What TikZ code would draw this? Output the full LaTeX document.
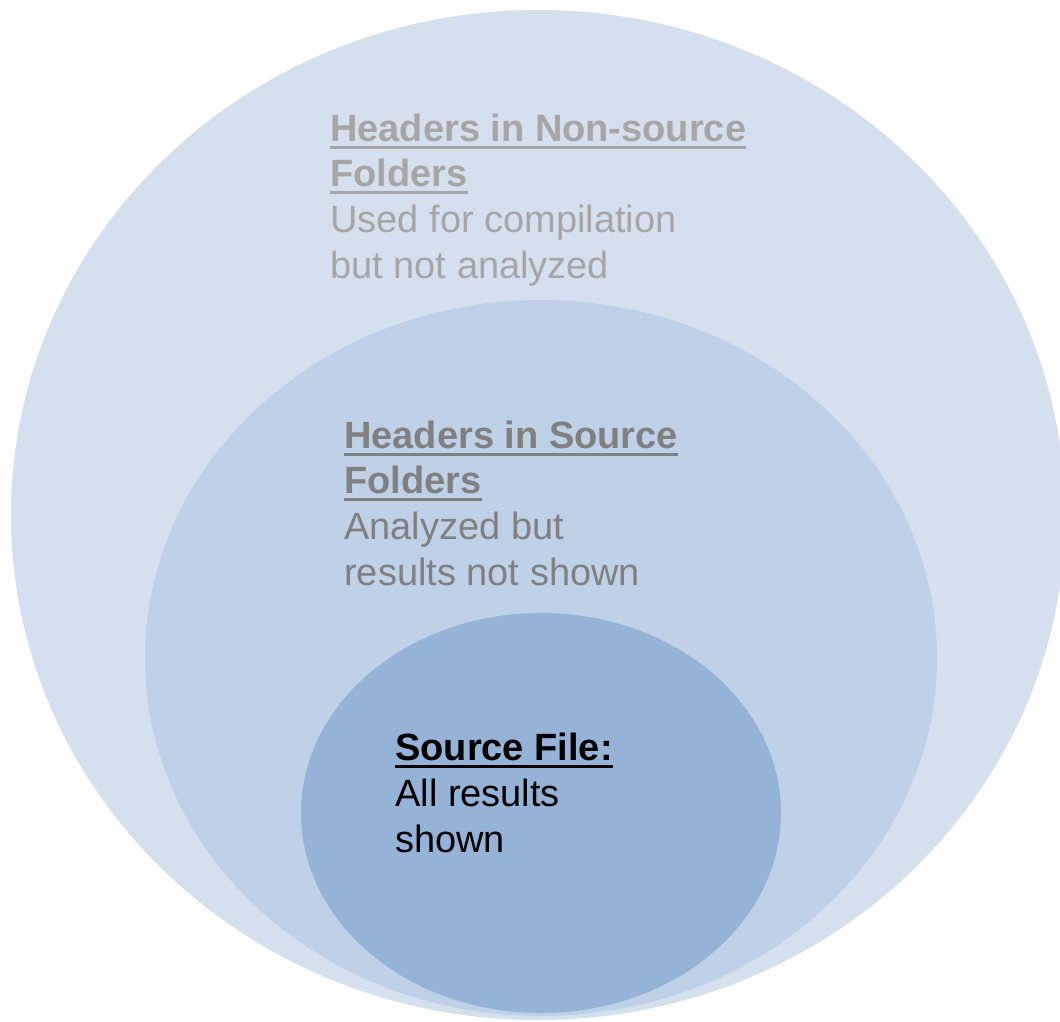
\documentclass[tikz,border=0pt]{standalone}
\usepackage{fontspec}
\setmainfont{Liberation Sans}
\usepackage{tikz}
\usetikzlibrary{shapes.geometric}

\definecolor{ringouter}{HTML}{D5E0EE}
\definecolor{ringmiddle}{HTML}{BFD1E7}
\definecolor{ringinner}{HTML}{95B3D7}
\definecolor{greylight}{HTML}{A6A6A6}
\definecolor{greydark}{HTML}{808080}

% bold heading with a thick underline
\newcommand{\headline}[1]{\setbox0\hbox{\bfseries #1}\rlap{\rule[-5.6pt]{\wd0}{2.1pt}}\box0}

\begin{document}
\begin{tikzpicture}[x=0.75pt, y=-0.75pt,
    ring/.style={ellipse, draw=none, inner sep=0pt},
    lbl/.style={anchor=base west, align=left, inner sep=0pt, font=\fontsize{28.5}{34.2}\selectfont}
]
    \useasboundingbox (0,0) rectangle (1060,1021);
    \node[ring, fill=ringouter,  minimum width=790.5pt, minimum height=757.5pt] (outer)  at (538,515) {};
    \node[ring, fill=ringmiddle, minimum width=594pt,   minimum height=537pt]   (middle) at (541,658) {};
    \node[ring, fill=ringinner,  minimum width=360pt,   minimum height=300pt]   (inner)  at (541,813) {};

    % base anchor sits on the last line
    \node[lbl, text=greylight] (outerlbl) at (330,278)
        {\headline{Headers in Non-source}\\\headline{Folders}\\Used for compilation\\but not analyzed};
    \node[lbl, text=greydark] (middlelbl) at (344,585)
        {\headline{Headers in Source}\\\headline{Folders}\\Analyzed but\\results not shown};
    \node[lbl, text=black] (innerlbl) at (395,852)
        {\headline{Source File:}\\All results\\shown};
\end{tikzpicture}
\end{document}
